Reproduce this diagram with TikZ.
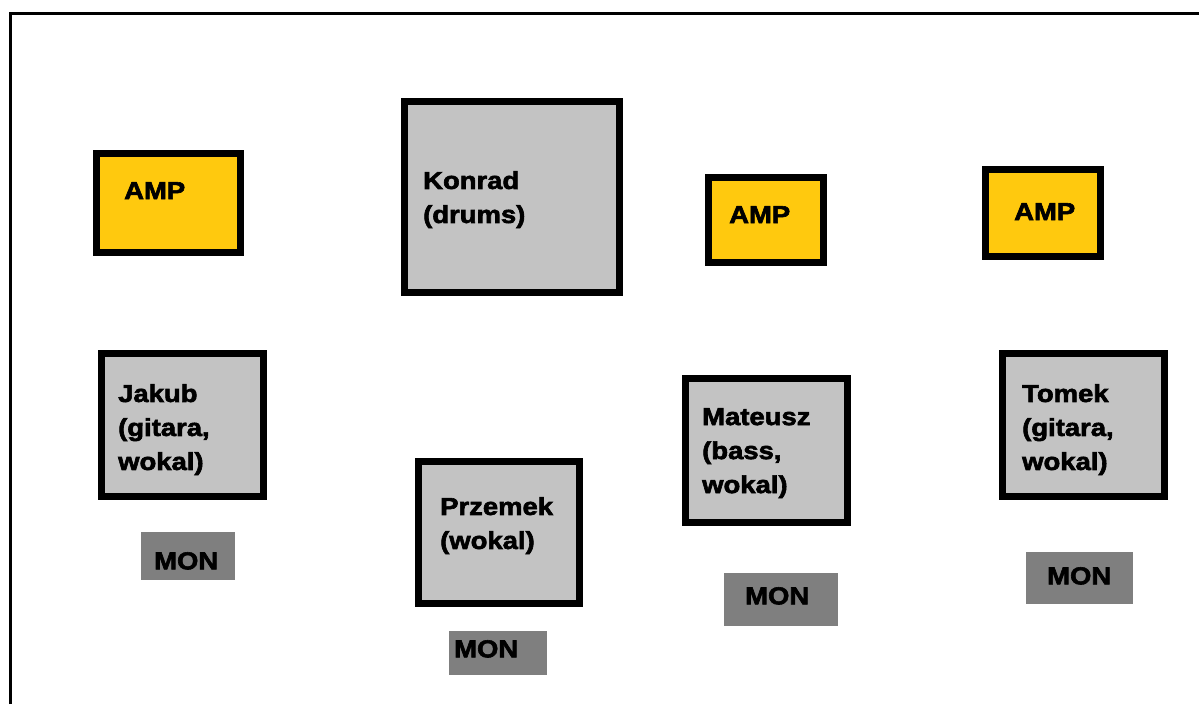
\documentclass[tikz,border=0pt]{standalone}
\usepackage{fontspec}
\setmainfont{Liberation Sans}[BoldFeatures={FakeStretch=1.12,FakeBold=2.5}]
\definecolor{ampyellow}{HTML}{FFC90E}
\definecolor{persongray}{HTML}{C3C3C3}
\definecolor{mongray}{HTML}{7F7F7F}
\tikzset{
  ampbox/.style={rectangle, draw=black, line width=7pt, fill=ampyellow, inner sep=0pt},
  personbox/.style={rectangle, draw=black, line width=7pt, fill=persongray, inner sep=0pt},
  monbox/.style={rectangle, draw=none, fill=mongray, inner sep=0pt},
  lbl/.style={anchor=north west, inner sep=0pt, align=left, font=\bfseries\fontsize{24.5pt}{34pt}\selectfont}
}
\begin{document}
\begin{tikzpicture}[x=1pt,y=-1pt]
\useasboundingbox (0,0) rectangle (1199,704);
\fill[white] (0,0) rectangle (1199,704);
\coordinate (fbl) at (10.5,704);
\coordinate (ftl) at (10.5,13.5);
\coordinate (ftr) at (1199,13.5);
\draw[line width=3pt] (fbl) -- (ftl) -- (ftr);

% amplifiers
\node[ampbox, minimum width=144pt, minimum height=99pt] (amp1) at (168.5,203) {};
\node[lbl] (amp1t) at (124,182) {AMP};
\node[ampbox, minimum width=115pt, minimum height=85pt] (amp2) at (766,220) {};
\node[lbl] (amp2t) at (729,206) {AMP};
\node[ampbox, minimum width=115pt, minimum height=87pt] (amp3) at (1043,213) {};
\node[lbl] (amp3t) at (1014,203) {AMP};

% musicians
\node[personbox, minimum width=215pt, minimum height=191pt] (konrad) at (512,197) {};
\node[lbl] (konradt) at (423,171) {Konrad\\(drums)};
\node[personbox, minimum width=162pt, minimum height=143pt] (jakub) at (182.5,425) {};
\node[lbl] (jakubt) at (118,384) {Jakub\\(gitara,\\wokal)};
\node[personbox, minimum width=161pt, minimum height=142pt] (przemek) at (499,532.5) {};
\node[lbl] (przemekt) at (440,497) {Przemek\\(wokal)};
\node[personbox, minimum width=162pt, minimum height=144pt] (mateusz) at (766.5,450.5) {};
\node[lbl] (mateuszt) at (702,408) {Mateusz\\(bass,\\wokal)};
\node[personbox, minimum width=162pt, minimum height=143pt] (tomek) at (1083.5,425) {};
\node[lbl] (tomekt) at (1022,384) {Tomek\\(gitara,\\wokal)};

% monitors
\node[monbox, minimum width=94pt, minimum height=48pt] (mon1) at (188,556) {};
\node[lbl] (mon1t) at (154,552) {MON};
\node[monbox, minimum width=98pt, minimum height=44pt] (mon2) at (498,653) {};
\node[lbl] (mon2t) at (454,640) {MON};
\node[monbox, minimum width=114pt, minimum height=53pt] (mon3) at (781,599.5) {};
\node[lbl] (mon3t) at (745,587) {MON};
\node[monbox, minimum width=107pt, minimum height=52pt] (mon4) at (1079.5,578) {};
\node[lbl] (mon4t) at (1047,567) {MON};
\end{tikzpicture}
\end{document}
